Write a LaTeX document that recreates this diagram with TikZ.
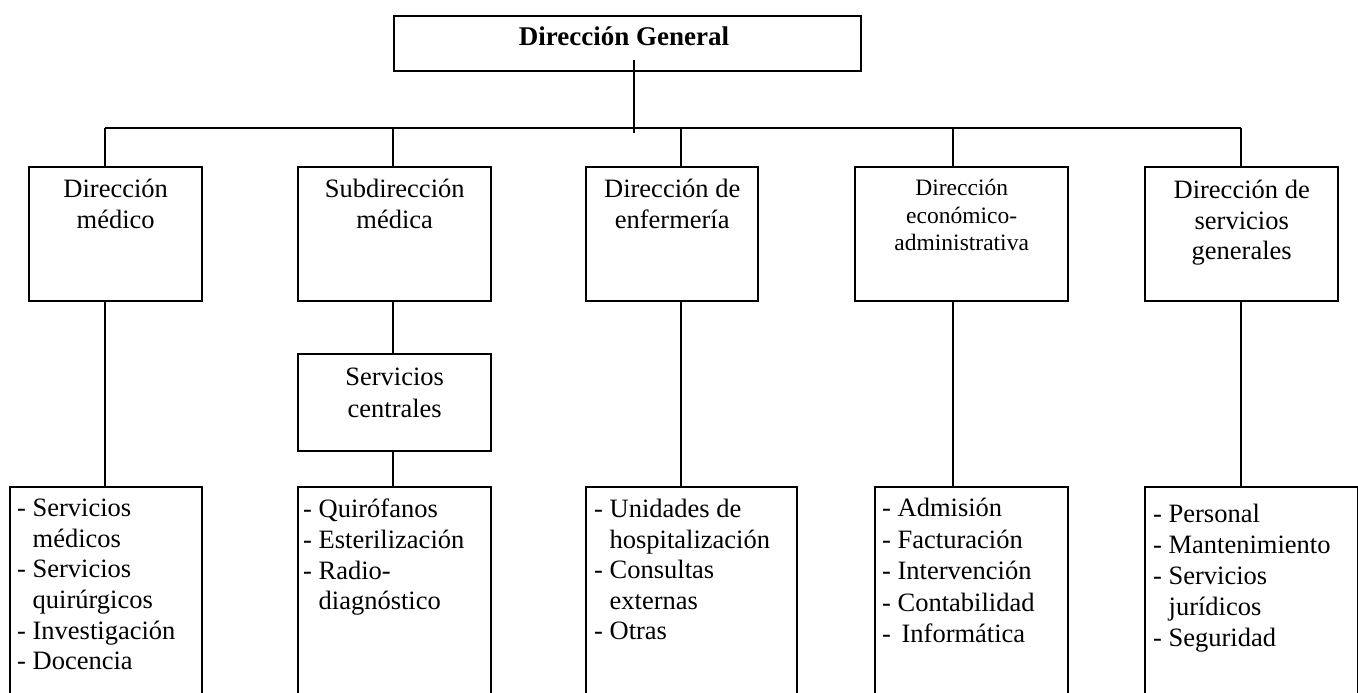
\documentclass[tikz,border=0pt]{standalone}
\usepackage{fontspec}
\setmainfont{Liberation Serif}
\usetikzlibrary{calc}
\begin{document}
\begin{tikzpicture}[x=1pt,y=-1pt,
  unit/.style={draw, line width=2.4pt, inner sep=0pt, anchor=north west},
  link/.style={line width=2.4pt},
  title/.style={inner sep=0pt, font=\bfseries\fontsize{27}{31}\selectfont},
  head/.style={inner sep=0pt, anchor=north, align=center, font=\fontsize{26.5}{30.5}\selectfont},
  headsmall/.style={inner sep=0pt, anchor=north, align=center, font=\fontsize{23.5}{27.5}\selectfont},
  list/.style={inner sep=0pt, anchor=north west, align=left, font=\fontsize{26.5}{30.6}\selectfont}]
\path[use as bounding box, clip] (0,0) rectangle (1358,693);
\fill[white] (0,0) rectangle (1358,693);

% top level
\node[unit, minimum width=467pt, minimum height=55pt] (gen) at (393,15) {};
\node[title] (gent) at (624,36) {Dirección General};

% bus
\coordinate (gtop) at (634,60);
\coordinate (gbot) at (634,133);
\coordinate (bus1) at (105,128);
\coordinate (bus2) at (393,128);
\coordinate (bus3) at (681,128);
\coordinate (bus4) at (953,128);
\coordinate (bus5) at (1241,128);
\draw[link] (gtop) -- (gbot);
\draw[link] (bus1) -- (bus5);

% second level
\node[unit, minimum width=173pt, minimum height=134pt] (d1) at (28,166) {};
\node[unit, minimum width=193pt, minimum height=134pt] (d2) at (297,166) {};
\node[unit, minimum width=172pt, minimum height=134pt] (d3) at (585,166) {};
\node[unit, minimum width=213pt, minimum height=134pt] (d4) at (854,166) {};
\node[unit, minimum width=193pt, minimum height=134pt] (d5) at (1144,166) {};

\node[head] (d1t) at ($(d1.north)+(0,13)$) {Dirección\\médico};
\node[head] (d2t) at ($(d2.north)+(0,13)$) {Subdirección\\médica};
\node[head] (d3t) at ($(d3.north)+(0,13)$) {Dirección de\\enfermería};
\node[headsmall] (d4t) at ($(d4.north)+(0,13)$) {Dirección\\económico-\\administrativa};
\node[head] (d5t) at ($(d5.north)+(0,14)$) {Dirección de\\servicios\\generales};

\draw[link] (bus1) -- (bus1 |- d1.north);
\draw[link] (bus2) -- (bus2 |- d2.north);
\draw[link] (bus3) -- (bus3 |- d3.north);
\draw[link] (bus4) -- (bus4 |- d4.north);
\draw[link] (bus5) -- (bus5 |- d5.north);

% central services
\node[unit, minimum width=193pt, minimum height=97pt] (sc) at (297,353) {};
\node[head, font=\fontsize{26.5}{31.5}\selectfont] (sct) at ($(sc.north)+(0,15)$) {Servicios\\centrales};

% third level (open at the bottom edge)
\node[unit, minimum width=192pt, minimum height=260pt] (b1) at (9,486) {};
\node[unit, minimum width=193pt, minimum height=260pt] (b2) at (297,486) {};
\node[unit, minimum width=211pt, minimum height=260pt] (b3) at (585,486) {};
\node[unit, minimum width=193pt, minimum height=260pt] (b4) at (874,486) {};
\node[unit, minimum width=213pt, minimum height=260pt] (b5) at (1144,486) {};

\draw[link] (bus1 |- d1.south) -- (bus1 |- b1.north);
\draw[link] (bus2 |- d2.south) -- (bus2 |- sc.north);
\draw[link] (bus2 |- sc.south) -- (bus2 |- b2.north);
\draw[link] (bus3 |- d3.south) -- (bus3 |- b3.north);
\draw[link] (bus4 |- d4.south) -- (bus4 |- b4.north);
\draw[link] (bus5 |- d5.south) -- (bus5 |- b5.north);

\node[list] (b1t) at ($(b1.north west)+(8,13)$)
  {- Servicios\\\phantom{- }médicos\\- Servicios\\\phantom{- }quirúrgicos\\- Investigación\\- Docencia};
\node[list] (b2t) at ($(b2.north west)+(6,13)$)
  {- Quirófanos\\- Esterilización\\- Radio-\\\phantom{- }diagnóstico};
\node[list] (b3t) at ($(b3.north west)+(9,13)$)
  {- Unidades de\\\phantom{- }hospitalización\\- Consultas\\\phantom{- }externas\\- Otras};
\node[list, font=\fontsize{26.5}{31.5}\selectfont] (b4t) at ($(b4.north west)+(8,12)$)
  {- Admisión\\- Facturación\\- Intervención\\- Contabilidad\\-\hspace{4pt} Informática};
\node[list, font=\fontsize{26.5}{31}\selectfont] (b5t) at ($(b5.north west)+(9,18)$)
  {- Personal\\- Mantenimiento\\- Servicios\\\phantom{- }jurídicos\\- Seguridad};
\end{tikzpicture}
\end{document}
